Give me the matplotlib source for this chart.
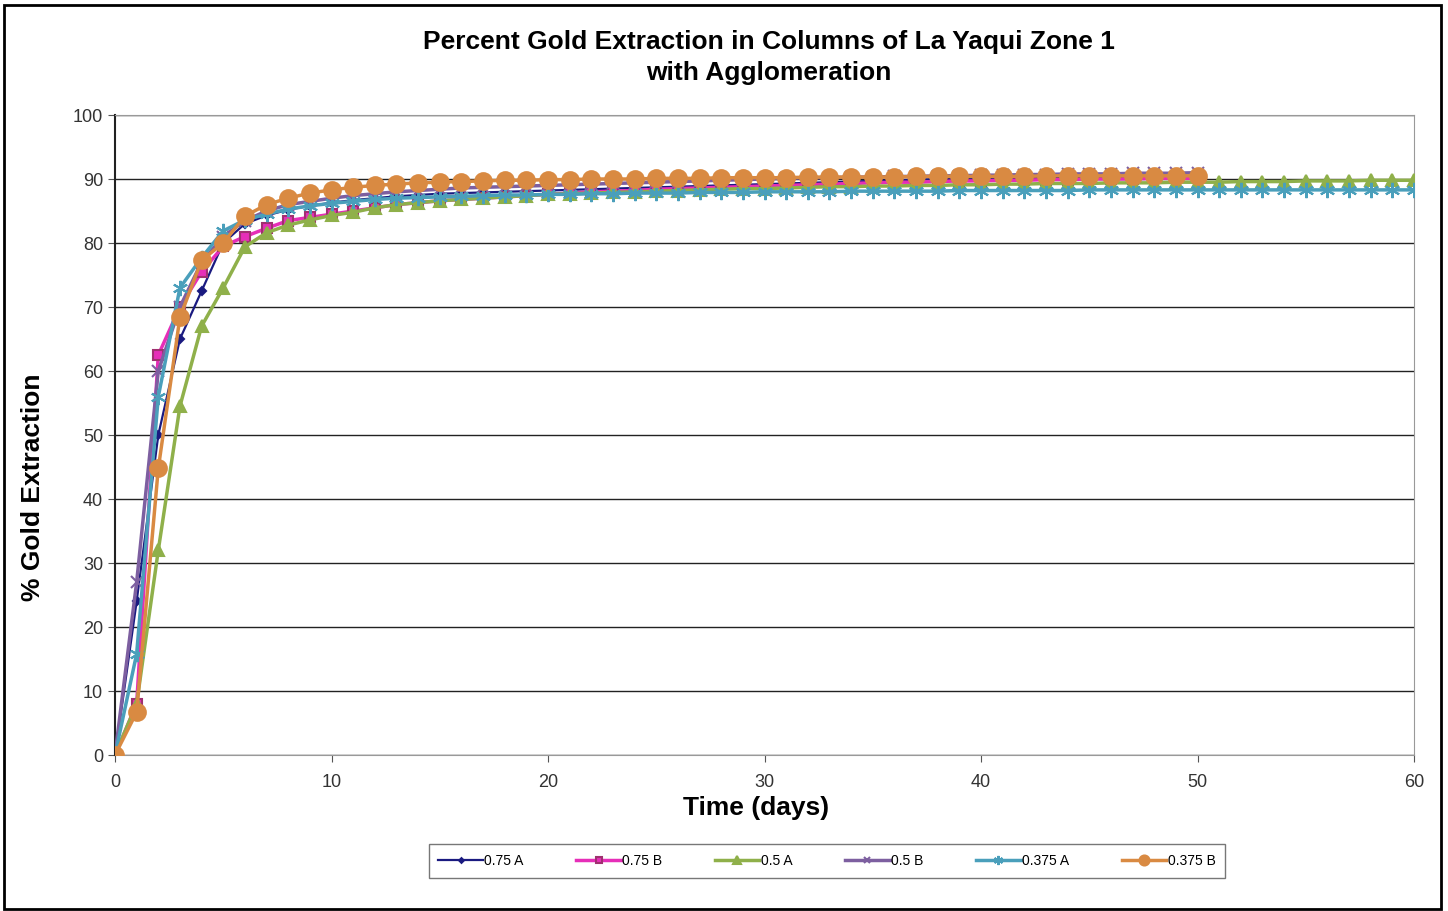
import numpy as np
import matplotlib
matplotlib.use('Agg')
import matplotlib.pyplot as plt
from matplotlib.patches import Rectangle

plt.rcParams['font.family'] = ['Liberation Sans', 'DejaVu Sans']

# % gold extraction per day (day 0, 1, 2, ...)
a075 = [0, 24, 50, 65, 72.5, 80, 83, 84.3, 85.2, 85.8, 86.3, 86.7, 87.0, 87.3, 87.5, 87.7,
        87.8, 87.9, 88.0, 88.1, 88.2, 88.3, 88.4, 88.5, 88.6, 88.7, 88.8, 88.9, 89.0, 89.1,
        89.2, 89.3, 89.4, 89.5, 89.6, 89.7, 89.8, 89.9, 90.0, 90.0, 90.1, 90.1, 90.2, 90.2,
        90.3, 90.3, 90.3, 90.4, 90.4, 90.4, 90.5]
b075 = [0, 8, 62.5, 70, 75.5, 79.5, 81, 82.3, 83.5, 84, 84.5, 85, 85.5, 86, 86.3, 86.6,
        86.8, 87.0, 87.2, 87.4, 87.6, 87.8, 88.0, 88.1, 88.2, 88.4, 88.5, 88.6, 88.7, 88.8,
        88.9, 89.0, 89.1, 89.2, 89.3, 89.4, 89.5, 89.5, 89.6, 89.7, 89.7, 89.8, 89.8, 89.9,
        89.9, 90.0, 90.0, 90.0, 90.1, 90.1, 90.1]
a05 = [0, 8, 32, 54.5, 67, 73, 79.4, 81.6, 82.8, 83.6, 84.3, 84.8, 85.5, 86.0, 86.3, 86.6,
       86.8, 87.0, 87.2, 87.4, 87.6, 87.7, 87.8, 87.9, 88.0, 88.1, 88.2, 88.3, 88.4, 88.5,
       88.5, 88.6, 88.7, 88.8, 88.8, 88.9, 88.9, 89.0, 89.0, 89.1, 89.1, 89.2, 89.2, 89.3,
       89.3, 89.3, 89.4, 89.4, 89.4, 89.5, 89.5, 89.5, 89.6, 89.6, 89.6, 89.7, 89.7, 89.7,
       89.8, 89.8, 89.8]
b05 = [0, 27, 60, 70, 77, 81, 83.5, 85, 86, 86.5, 87, 87.4, 87.7, 88.0, 88.2, 88.4, 88.6,
       88.7, 88.8, 88.9, 89.0, 89.1, 89.2, 89.3, 89.4, 89.5, 89.6, 89.7, 89.8, 89.9, 90.0,
       90.1, 90.2, 90.2, 90.3, 90.3, 90.4, 90.4, 90.5, 90.5, 90.6, 90.6, 90.7, 90.7, 90.8,
       90.8, 90.8, 90.9, 90.9, 90.9, 91.0]
a0375 = [0, 15.8, 56, 73, 77.7, 81.9, 83.6, 84.5, 85.3, 85.8, 86.2, 86.5, 86.8, 87.0, 87.1,
         87.2, 87.3, 87.4, 87.5, 87.5, 87.6, 87.6, 87.7, 87.7, 87.8, 87.8, 87.8, 87.9, 87.9,
         87.9, 88.0, 88.0, 88.0, 88.0, 88.1, 88.1, 88.1, 88.1, 88.1, 88.2, 88.2, 88.2, 88.2,
         88.2, 88.2, 88.3, 88.3, 88.3, 88.3, 88.3, 88.3, 88.3, 88.3, 88.3, 88.3, 88.3, 88.3,
         88.3, 88.3, 88.3, 88.3]
b0375 = [0, 6.7, 44.8, 68.4, 77.3, 80.0, 84.2, 86.0, 87.0, 87.8, 88.3, 88.7, 89.0, 89.2,
         89.4, 89.5, 89.6, 89.7, 89.8, 89.8, 89.9, 89.9, 90.0, 90.0, 90.0, 90.1, 90.1, 90.1,
         90.2, 90.2, 90.2, 90.2, 90.3, 90.3, 90.3, 90.3, 90.3, 90.4, 90.4, 90.4, 90.4, 90.4,
         90.4, 90.5, 90.5, 90.5, 90.5, 90.5, 90.5, 90.5, 90.5]

fig = plt.figure(figsize=(14.48, 9.11), dpi=100)
ax = fig.add_axes([115 / 1448, 1 - 755 / 911, 1299 / 1448, 640 / 911])

series = [
    (a075, '0.75 A', '#1a1a80', 'D', 4, 1.6),
    (b075, '0.75 B', '#e62eb8', 's', 7, 2.5),
    (a05, '0.5 A', '#8fb04a', '^', 9, 2.5),
    (b05, '0.5 B', '#7d5fa0', 'x', 8, 2.5),
    (a0375, '0.375 A', '#4a9fbb', (6, 2, 0), 11, 2.5),
    (b0375, '0.375 B', '#d98a42', 'o', 12, 2.5),
]
for vals, lab, col, mk, ms, lw in series:
    days = np.arange(len(vals))
    ec = '#a03070' if mk == 's' else col
    ax.plot(days, vals, color=col, lw=lw, marker=mk, ms=ms, mfc=col, mec=ec,
            mew=1.5, label=lab, zorder=3)

ax.set_xlim(0, 60)
ax.set_ylim(0, 100)
ax.set_xticks(range(0, 61, 10))
ax.set_yticks(range(0, 101, 10))
ax.grid(axis='y', color='#222222', lw=1.0, zorder=1)
ax.tick_params(labelsize=13, labelcolor='#333333', length=5, color='#555555')
ax.tick_params(axis='x', pad=9)
for s in ['top', 'right', 'bottom']:
    ax.spines[s].set_color('#999999')
ax.spines['left'].set_color('#222222')
ax.spines['left'].set_linewidth(1.5)

ax.set_xlabel('Time (days)', fontsize=19, fontweight='bold')
ax.xaxis.set_label_coords((756 - 115) / 1299, -(808 - 755) / 640)
ax.set_ylabel('% Gold Extraction', fontsize=19, fontweight='bold')
ax.yaxis.set_label_coords(-(115 - 33) / 1299, (755 - 487) / 640)
ax.xaxis.label.set_va('center')
ax.yaxis.label.set_va('center')

fig.text(769 / 1448, 1 - 42 / 911, 'Percent Gold Extraction in Columns of La Yaqui Zone 1',
         ha='center', va='center', fontsize=19, fontweight='bold')
fig.text(769 / 1448, 1 - 73 / 911, 'with Agglomeration',
         ha='center', va='center', fontsize=19, fontweight='bold')

leg = fig.legend(loc='center', bbox_to_anchor=(827 / 1448, 1 - 861 / 911), ncol=6,
                 fontsize=10, frameon=True, fancybox=False, edgecolor='#555555',
                 handlelength=3.2, columnspacing=3.8, handletextpad=0.1,
                 markerscale=0.6, borderpad=0.7, borderaxespad=0)
leg.get_frame().set_linewidth(1.0)

fig.patches.append(Rectangle((4 / 1448, 2 / 911), 1437 / 1448, 904 / 911,
                             transform=fig.transFigure, fill=False,
                             edgecolor='black', lw=2))

fig.savefig('out.png', dpi=100)
